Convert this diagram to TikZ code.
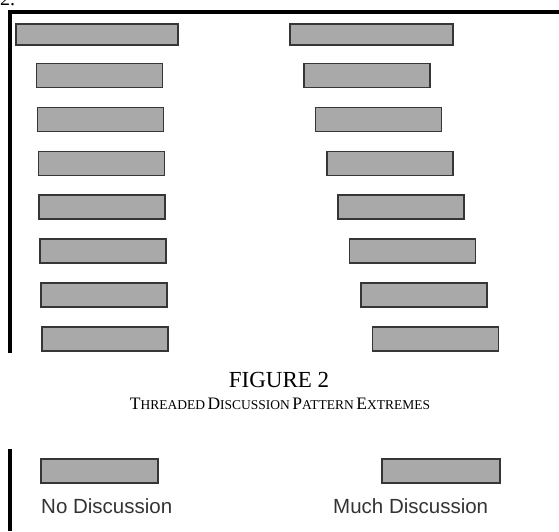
\documentclass[tikz,border=0pt]{standalone}
\usepackage{fontspec}
\setmainfont{Liberation Serif}
\newfontfamily\labelfont{Liberation Sans}
\usetikzlibrary{positioning}
\definecolor{postfill}{HTML}{A9A9A9}
\definecolor{postline}{HTML}{363636}
\definecolor{labelgray}{HTML}{333333}
\newcommand{\capinit}[1]{{\fontsize{17.5}{17.5}\selectfont #1}}
\newcommand{\capsmall}[1]{{\fontsize{13.5}{13.5}\selectfont #1}}
\tikzset{
  post/.style={draw=postline, fill=postfill, line width=1.6pt,
    minimum width=126pt, minimum height=24pt, inner sep=0pt},
  frame/.style={line width=3.5pt, black},
  caption/.style={inner sep=0pt, text=black},
  extreme/.style={inner sep=0pt, anchor=base west, text=labelgray,
    font=\labelfont\fontsize{20.5}{20.5}\selectfont}
}
\begin{document}
\begin{tikzpicture}[x=1pt,y=-1pt]
\useasboundingbox (0,0) rectangle (559,531);
\node[caption, anchor=south west, font=\fontsize{20}{20}\selectfont] (fignum) at (0,6) {2.};
% upper panel
\draw[frame] (10,353) -- (10,12) -- (559,12);
\node[post, minimum width=162pt, minimum height=21pt] (l0) at (97,34.5) {};
\node[post, minimum width=163pt, minimum height=21pt] (r0) at (371.5,34.5) {};
\foreach \i in {1,...,7} {
  \node[post] (l\i) at ({98.6+0.9*\i},{31.6+43.9*\i}) {};
  \node[post] (r\i) at ({355.6+11.4*\i},{31.6+43.9*\i}) {};
}
% caption
\node[caption, font=\fontsize{23}{23}\selectfont] (figtitle) at (279,380) {FIGURE 2};
\node[caption] (figcaption) at (280,404)
  {\capinit{T}\capsmall{HREADED} \capinit{D}\capsmall{ISCUSSION}
   \capinit{P}\capsmall{ATTERN} \capinit{E}\capsmall{XTREMES}};
% lower panel
\draw[frame] (10,449) -- (10,531);
\node[post, minimum width=117pt] (nodisc) at (99.5,471) {};
\node[post, minimum width=118pt] (muchdisc) at (441,471) {};
\node[extreme] (nolabel) at (41,513) {No Discussion};
\node[extreme] (muchlabel) at (333,513) {Much Discussion};
\end{tikzpicture}
\end{document}
